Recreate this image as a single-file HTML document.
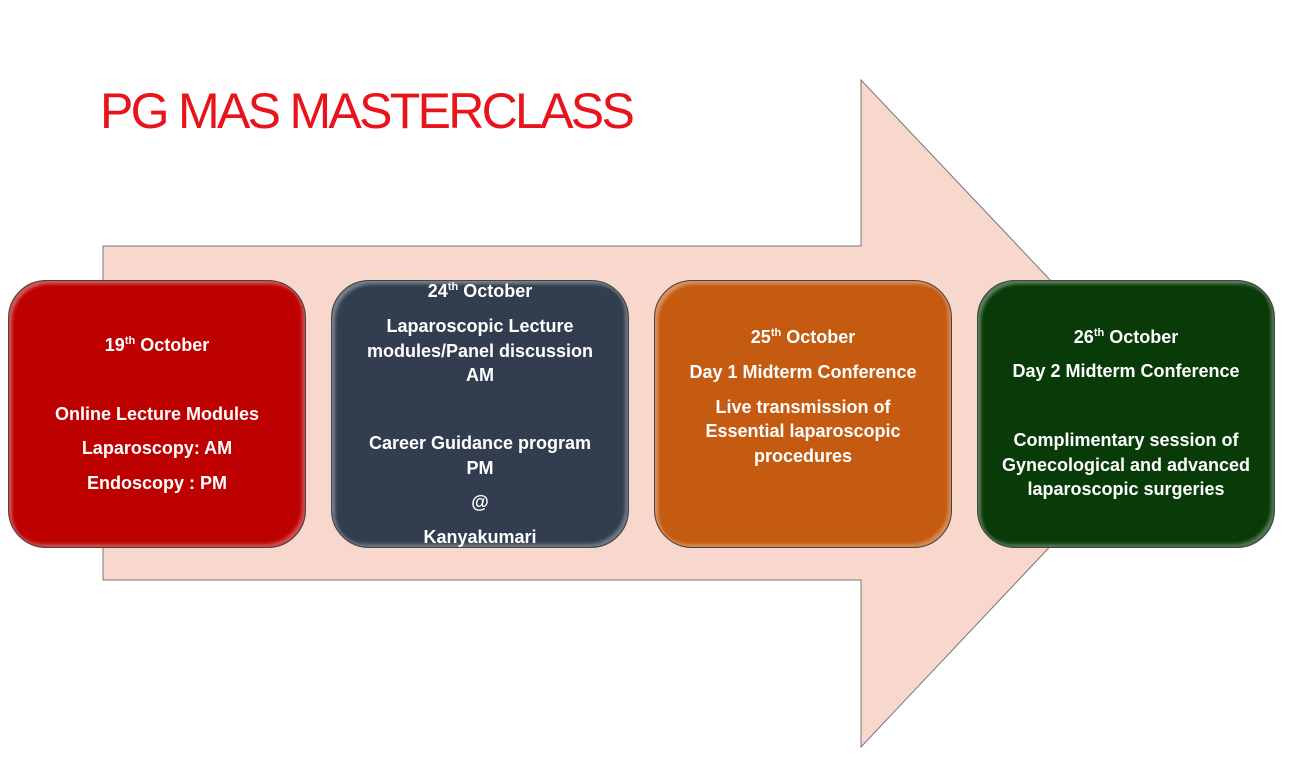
<!DOCTYPE html>
<html><head><meta charset="utf-8"><style>
body{margin:0;width:1293px;height:760px;background:#fff;position:relative;overflow:hidden;font-family:"Liberation Sans",sans-serif}
.title{position:absolute;left:100px;top:82px;font-size:50px;color:#e8141b;letter-spacing:-2.7px;white-space:nowrap}
.box{position:absolute;top:280px;width:298px;height:268px;border-radius:38px;border:1.5px solid #444;box-sizing:border-box;box-shadow:inset 3px 3px 3px rgba(255,255,255,.35),inset -3px -3px 3px rgba(255,255,255,.3)}
.t{position:absolute;left:0;width:100%;text-align:center;color:#fff;font-weight:bold;font-size:18px;line-height:22px;transform:translateY(-11px);white-space:nowrap}
sup{font-size:11px;line-height:0}
</style></head><body>
<svg width="1293" height="760" style="position:absolute;left:0;top:0">
<polygon points="103,246 861,246 861,80 1176,413 861,747 861,580 103,580" fill="#f8d7cc" stroke="#777" stroke-width="1"/>
</svg>
<div class="title">PG MAS MASTERCLASS</div>
<div class="box" style="left:8px;background:#bd0000">
<div class="t" style="top:64px">19<sup>th</sup> October</div>
<div class="t" style="top:133px">Online Lecture Modules</div>
<div class="t" style="top:167px">Laparoscopy: AM</div>
<div class="t" style="top:202px">Endoscopy : PM</div>
</div>
<div class="box" style="left:331px;background:#323e50">
<div class="t" style="top:10px">24<sup>th</sup> October</div>
<div class="t" style="top:45px">Laparoscopic Lecture</div>
<div class="t" style="top:70px">modules/Panel discussion</div>
<div class="t" style="top:94px">AM</div>
<div class="t" style="top:162px">Career Guidance program</div>
<div class="t" style="top:187px">PM</div>
<div class="t" style="top:221px">@</div>
<div class="t" style="top:256px">Kanyakumari</div>
</div>
<div class="box" style="left:654px;background:#c55a11">
<div class="t" style="top:56px">25<sup>th</sup> October</div>
<div class="t" style="top:91px">Day 1 Midterm Conference</div>
<div class="t" style="top:126px">Live transmission of</div>
<div class="t" style="top:150px">Essential laparoscopic</div>
<div class="t" style="top:175px">procedures</div>
</div>
<div class="box" style="left:977px;background:#093b09">
<div class="t" style="top:56px">26<sup>th</sup> October</div>
<div class="t" style="top:90px">Day 2 Midterm Conference</div>
<div class="t" style="top:159px">Complimentary session of</div>
<div class="t" style="top:184px">Gynecological and advanced</div>
<div class="t" style="top:208px">laparoscopic surgeries</div>
</div>
</body></html>
